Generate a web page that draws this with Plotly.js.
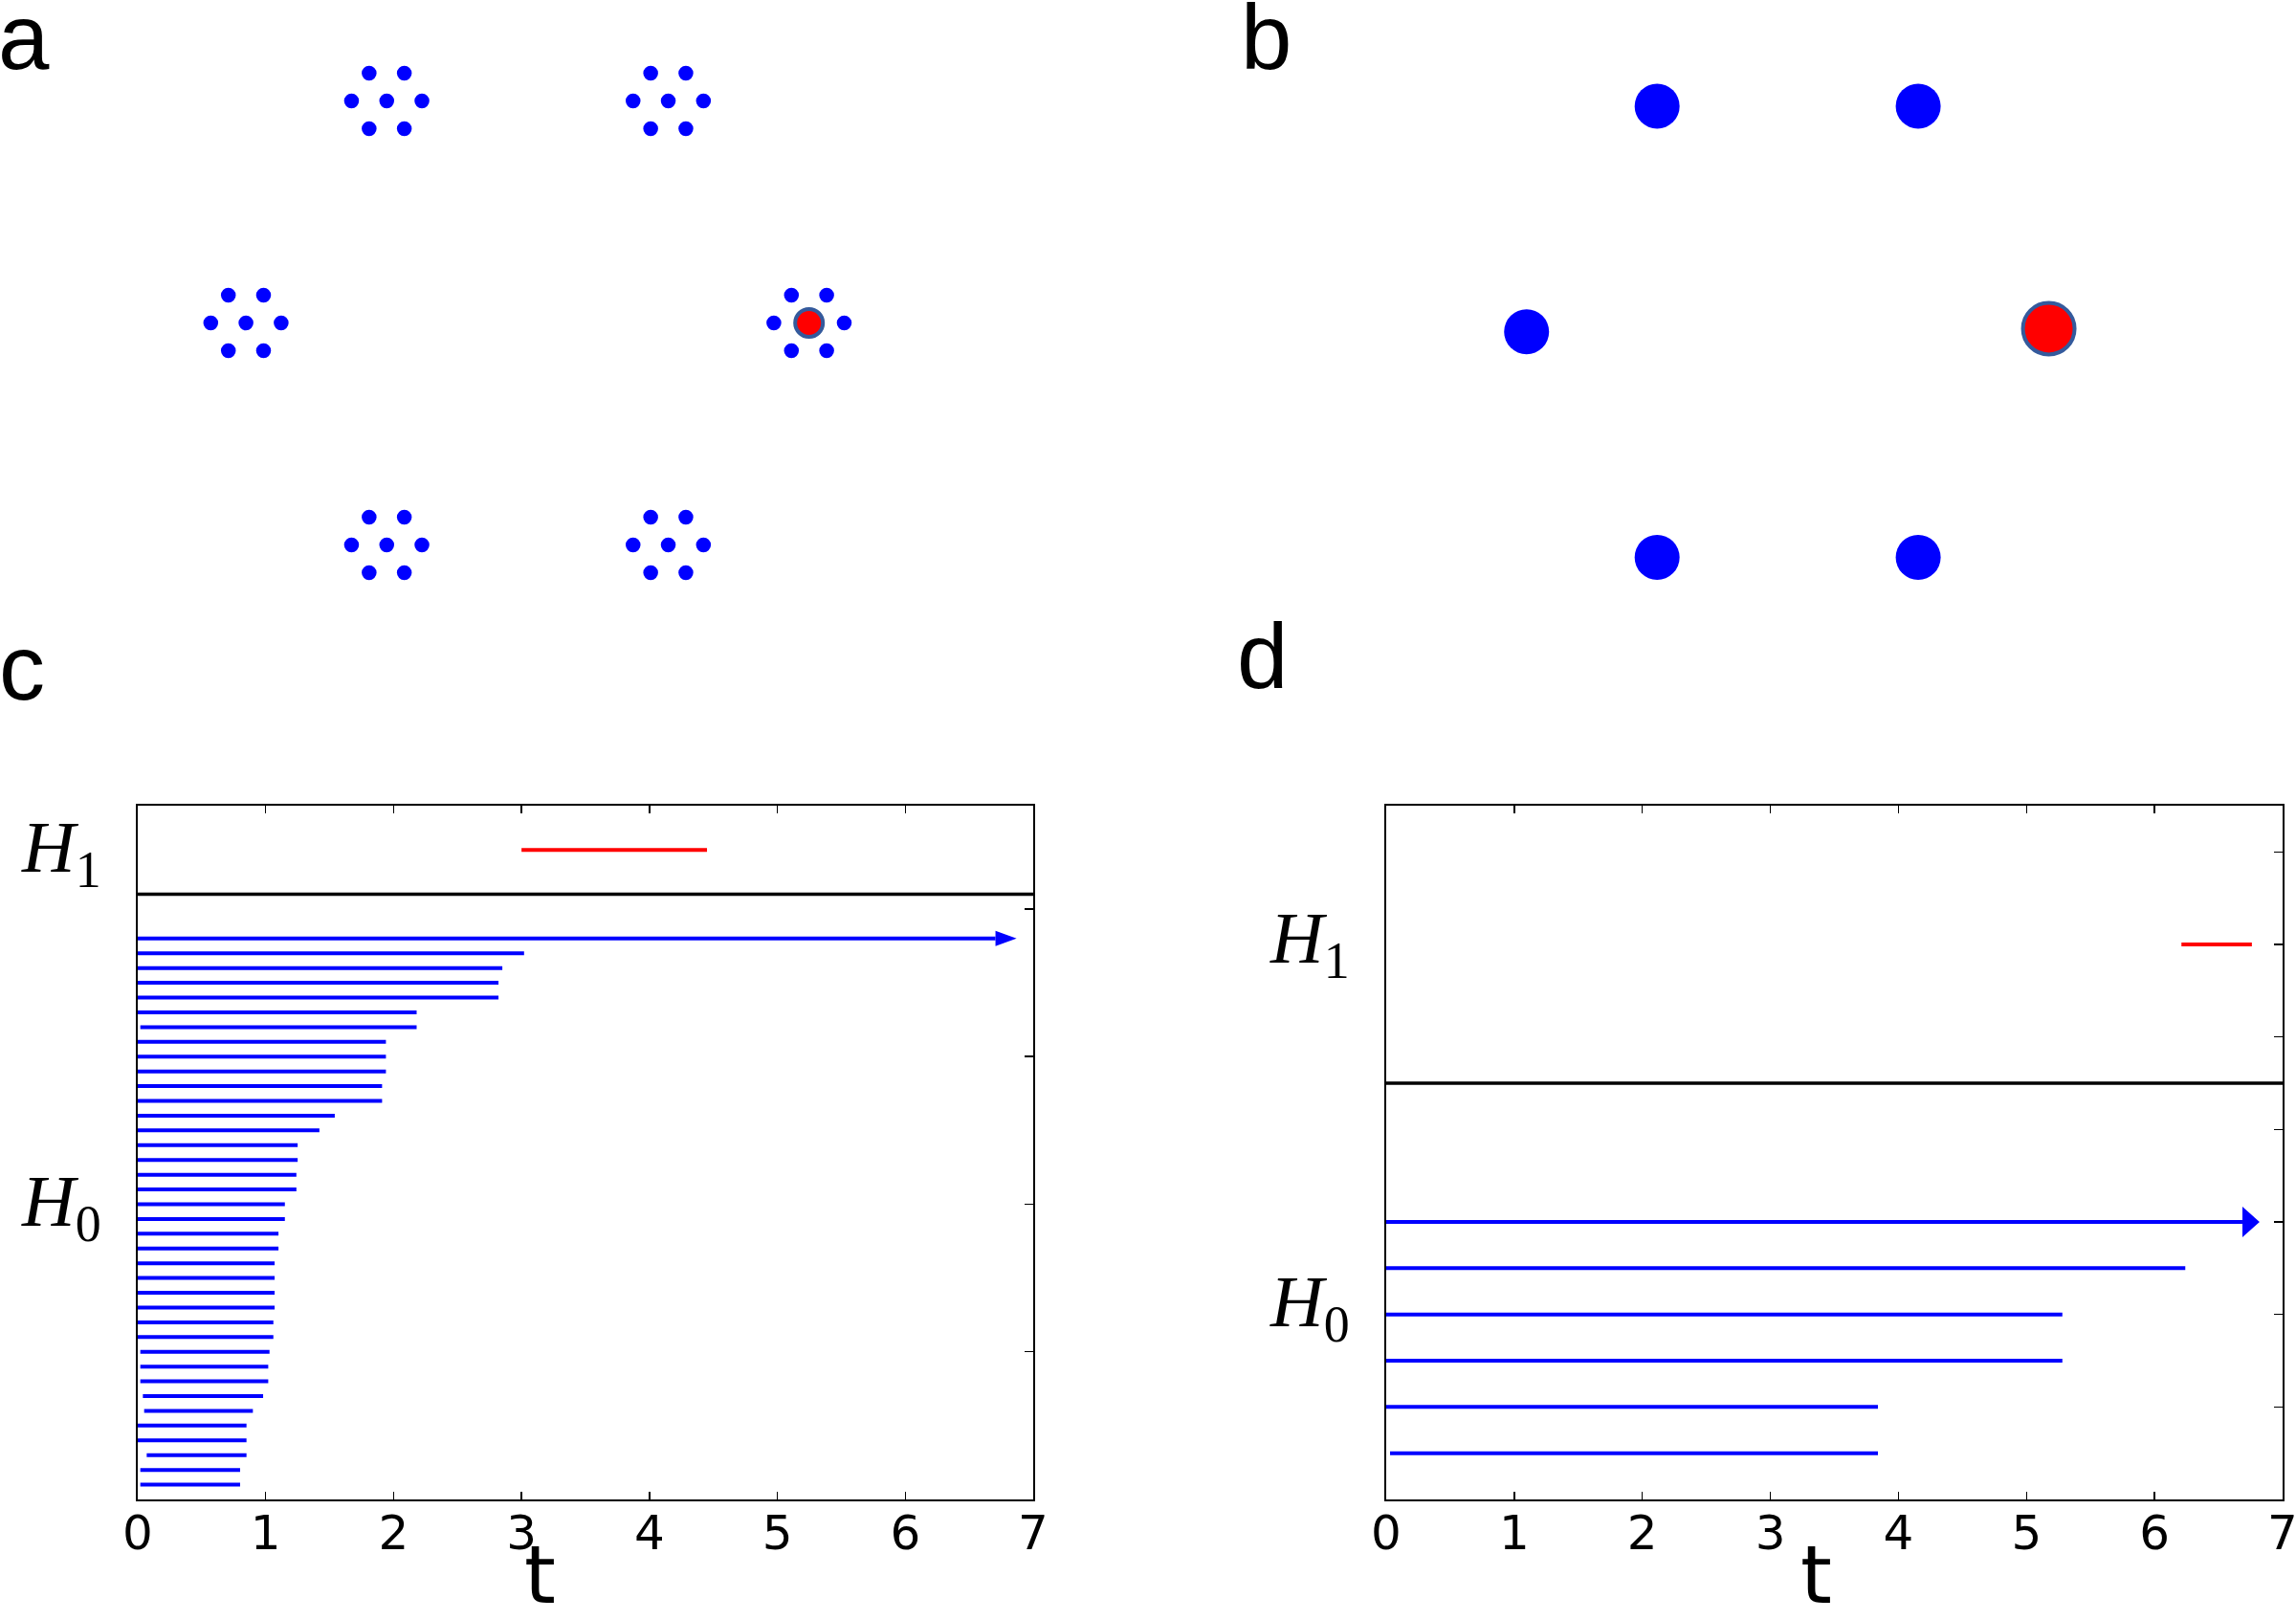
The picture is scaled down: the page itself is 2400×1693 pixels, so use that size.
<!DOCTYPE html>
<html><head><meta charset="utf-8">
<script src="https://cdn.plot.ly/plotly-3.0.1.min.js"></script>
<style>html,body{margin:0;padding:0;background:#fff;} #chart{width:2400px;height:1693px;}</style>
</head><body><div id="chart"></div>
<script>
// ---------- Panel a: six clusters on a hexagon, each a ring of 6 dots + centre ----------
const clusterX = [-0.5, 0.5, -1, 1, -0.5, 0.5];
const clusterY = [0.866, 0.866, 0, 0, -0.866, -0.866];
const ringDX = [0, 0.125, 0.0625, -0.0625, -0.125, -0.0625, 0.0625];
const ringDY = [0, 0, 0.108, 0.108, 0, -0.108, -0.108];
const aMarkedX = [1];
const aMarkedY = [0];

// ---------- Panel b: one representative per cluster ----------
const bX = [-0.5, 0.5, -1, -0.5, 0.5];
const bY = [0.866, 0.866, 0, -0.866, -0.866];
const bMarkedX = [1];
const bMarkedY = [0.012];

// ---------- Panel c: barcode of panel a ----------
const cH0Births = [0, 0, 0, 0, 0, 0.02, 0, 0, 0, 0, 0, 0, 0, 0, 0, 0, 0, 0, 0, 0, 0, 0, 0, 0, 0, 0, 0,
                   0.02, 0.02, 0.02, 0.04, 0.05, 0, 0, 0.07, 0.02, 0.02];
const cH0Deaths = [3.02, 2.85, 2.82, 2.82, 2.18, 2.18, 1.94, 1.94, 1.94, 1.91, 1.91, 1.54, 1.42,
                   1.25, 1.25, 1.24, 1.24, 1.15, 1.15, 1.10, 1.10, 1.07, 1.07, 1.07, 1.07, 1.06, 1.06,
                   1.03, 1.02, 1.02, 0.98, 0.90, 0.85, 0.85, 0.85, 0.80, 0.80];
const cInfBirth = 0;
const cInfEnd = 6.87;      // arrow tip (infinite bar)
const cH1 = [3.0, 4.45];
const cLevels = {h1: 44, split: 41, top: 47, inf: 38};
const cLabelPos = [20.3, 44.3];

// ---------- Panel d: barcode of panel b ----------
const dH0Births = [0, 0, 0, 0, 0.03];
const dH0Deaths = [6.24, 5.28, 5.28, 3.84, 3.84];
const dInfBirth = 0;
const dInfEnd = 6.82;
const dH1 = [6.21, 6.76];
const dLevels = {h1: 12, split: 9, top: 15, inf: 6};
const dLabelPos = [4.3, 12.16];

const tTicks = [0, 1, 2, 3, 4, 5, 6, 7];
const hLabels = ['<i>H</i><sub>0</sub>', '<i>H</i><sub>1</sub>'];

const BLUE = '#0000ff', RED = '#ff0000', RIM = '#345a9c';

// ---------- build traces ----------
const aX = [], aY = [];
clusterX.forEach((cx, i) => ringDX.forEach((dx, j) => { aX.push(cx + dx); aY.push(clusterY[i] + ringDY[j]); }));

function bars(births, deaths, xa, ya, color, width) {
  const n = births.length, x = [], y = [];
  for (let i = 0; i < n; i++) { x.push(births[i], deaths[i], null); y.push(n - i, n - i, null); }
  return {type: 'scatter', mode: 'lines', x, y, xaxis: xa, yaxis: ya,
          line: {color, width}, hoverinfo: 'skip', showlegend: false};
}
function arrow(b, tip, lvl, xa, ya, headLen, headHalf) {
  return [
    {type: 'scatter', mode: 'lines', x: [b, tip - headLen], y: [lvl, lvl], xaxis: xa, yaxis: ya,
     line: {color: BLUE, width: 4}, hoverinfo: 'skip', showlegend: false},
    {type: 'scatter', mode: 'lines', x: [tip - headLen, tip, tip - headLen, tip - headLen],
     y: [lvl + headHalf, lvl, lvl - headHalf, lvl + headHalf], fill: 'toself', fillcolor: BLUE,
     xaxis: xa, yaxis: ya, line: {color: BLUE, width: 0}, hoverinfo: 'skip', showlegend: false}
  ];
}
function seg(xs, lvl, xa, ya) {
  return {type: 'scatter', mode: 'lines', x: xs, y: [lvl, lvl], xaxis: xa, yaxis: ya,
          line: {color: RED, width: 4}, hoverinfo: 'skip', showlegend: false};
}
const dummy = (xa, ya) => ({type: 'scatter', mode: 'markers', x: [null], y: [null], xaxis: xa, yaxis: ya,
                            hoverinfo: 'skip', showlegend: false});

const traces = [
  {type: 'scatter', mode: 'markers', x: aX, y: aY, xaxis: 'x3', yaxis: 'y5',
   marker: {color: BLUE, size: 15.5, line: {width: 0}}, hoverinfo: 'skip', showlegend: false},
  {type: 'scatter', mode: 'markers', x: aMarkedX, y: aMarkedY, xaxis: 'x3', yaxis: 'y5',
   marker: {color: RED, size: 29, line: {color: RIM, width: 4}}, hoverinfo: 'skip', showlegend: false},
  {type: 'scatter', mode: 'markers', x: bX, y: bY, xaxis: 'x4', yaxis: 'y6',
   marker: {color: BLUE, size: 47, line: {width: 0}}, hoverinfo: 'skip', showlegend: false},
  {type: 'scatter', mode: 'markers', x: bMarkedX, y: bMarkedY, xaxis: 'x4', yaxis: 'y6',
   marker: {color: RED, size: 54, line: {color: RIM, width: 4}}, hoverinfo: 'skip', showlegend: false},
  bars(cH0Births, cH0Deaths, 'x', 'y', BLUE, 4),
  ...arrow(cInfBirth, cInfEnd, cLevels.inf, 'x', 'y', 0.165, 0.52),
  seg(cH1, cLevels.h1, 'x', 'y'),
  bars(dH0Births, dH0Deaths, 'x2', 'y2', BLUE, 4),
  ...arrow(dInfBirth, dInfEnd, dLevels.inf, 'x2', 'y2', 0.134, 0.33),
  seg(dH1, dLevels.h1, 'x2', 'y2'),
  dummy('x', 'y3'),
  dummy('x2', 'y4')
];

// ---------- axes ----------
const W = 2400, H = 1693;
const px = v => v / W, py = v => 1 - v / H;
const boxTop = 842, boxBot = 1567;

function tAxis(l, r, anchor) {
  return {domain: [px(l), px(r)], range: [0, 7], anchor, tickvals: tTicks, ticktext: tTicks.map(String),
          ticks: 'inside', ticklen: 8, tickwidth: 1.5, tickcolor: '#000', mirror: 'ticks',
          showline: true, linewidth: 2, linecolor: '#000', showgrid: false, zeroline: false,
          ticklabelstandoff: -10, ticklabeloverflow: 'allow',
          tickfont: {family: 'DejaVu Sans', size: 50, color: '#000'}, fixedrange: true};
}
function hAxis(top, labelPos, anchor) {
  return {domain: [py(boxBot), py(boxTop)], range: [0, top], anchor, tickvals: labelPos, ticktext: hLabels,
          ticks: '', showline: true, mirror: true, linewidth: 2, linecolor: '#000', showgrid: false,
          zeroline: false, tickfont: {family: 'Liberation Serif', size: 77, color: '#000'},
          ticklabelstandoff: 21, fixedrange: true};
}
function rightTicks(over, top, step, anchor) {
  const v = []; for (let k = 0; k <= top; k += step) v.push(k);
  return {overlaying: over, side: 'right', anchor, range: [0, top], tickvals: v, ticks: 'inside',
          ticklen: 9, tickwidth: 1.5, tickcolor: '#000', showticklabels: false, showline: false,
          showgrid: false, zeroline: false, fixedrange: true};
}
const hidden = (dom, rng) => ({domain: dom, range: rng, visible: false, fixedrange: true});

const layout = {
  width: W, height: H, margin: {l: 0, r: 0, t: 0, b: 0}, autosize: false,
  paper_bgcolor: '#fff', plot_bgcolor: 'rgba(0,0,0,0)', showlegend: false,
  font: {family: 'Liberation Sans', color: '#000'},
  xaxis: tAxis(144, 1080, 'y'),
  yaxis: hAxis(cLevels.top, cLabelPos, 'x'),
  yaxis3: rightTicks('y', cLevels.top, 10, 'x'),
  xaxis2: tAxis(1449, 2386, 'y2'),
  yaxis2: hAxis(dLevels.top, dLabelPos, 'x2'),
  yaxis4: rightTicks('y2', dLevels.top, 2, 'x2'),
  xaxis3: Object.assign(hidden([0, 0.5], [-1.8736, 2.2039]), {anchor: 'y5'}),
  yaxis5: Object.assign(hidden([py(680), 1], [-1.2785, 1.2598]), {anchor: 'x3'}),
  xaxis4: Object.assign(hidden([0.5, 1], [-2.450, 1.947]), {anchor: 'y6'}),
  yaxis6: Object.assign(hidden([py(680), 1], [-1.2245, 1.2737]), {anchor: 'x4'}),
  shapes: [
    {type: 'line', xref: 'x domain', yref: 'y', x0: 0, x1: 1, y0: cLevels.split, y1: cLevels.split,
     line: {color: '#000', width: 3.5}},
    {type: 'line', xref: 'x2 domain', yref: 'y2', x0: 0, x1: 1, y0: dLevels.split, y1: dLevels.split,
     line: {color: '#000', width: 3.5}}
  ],
  annotations: [
    {text: 'a', xref: 'paper', yref: 'paper', x: px(-4), y: py(38.5), xanchor: 'left', yanchor: 'middle',
     showarrow: false, font: {family: 'Liberation Sans', size: 96, color: '#000'}},
    {text: 'b', xref: 'paper', yref: 'paper', x: px(1295), y: py(38.5), xanchor: 'left', yanchor: 'middle',
     showarrow: false, font: {family: 'Liberation Sans', size: 96, color: '#000'}},
    {text: 'c', xref: 'paper', yref: 'paper', x: px(-3), y: py(697), xanchor: 'left', yanchor: 'middle',
     showarrow: false, font: {family: 'Liberation Sans', size: 96, color: '#000'}},
    {text: 'd', xref: 'paper', yref: 'paper', x: px(1291), y: py(685), xanchor: 'left', yanchor: 'middle',
     showarrow: false, font: {family: 'Liberation Sans', size: 96, color: '#000'}},
    {text: 't', xref: 'paper', yref: 'paper', x: px(564), y: py(1646), xanchor: 'center', yanchor: 'middle',
     showarrow: false, font: {family: 'DejaVu Sans', size: 84, color: '#000'}},
    {text: 't', xref: 'paper', yref: 'paper', x: px(1898), y: py(1646), xanchor: 'center', yanchor: 'middle',
     showarrow: false, font: {family: 'DejaVu Sans', size: 84, color: '#000'}}
  ]
};

Plotly.newPlot('chart', traces, layout, {staticPlot: true, displayModeBar: false});
</script>
</body></html>
